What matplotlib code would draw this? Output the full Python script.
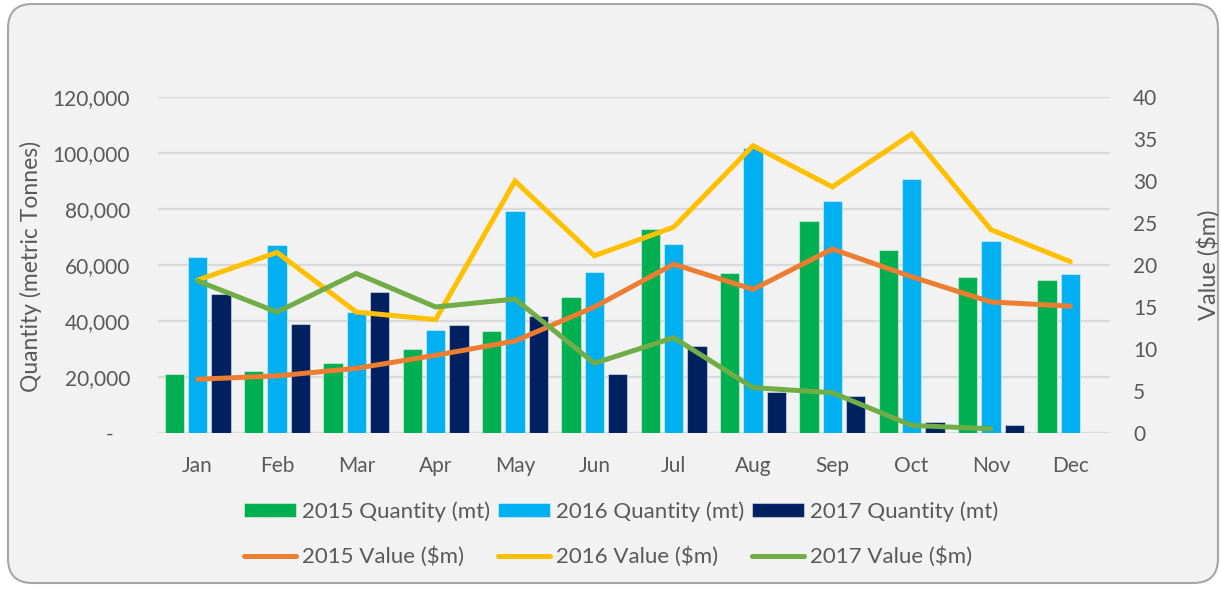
import matplotlib.pyplot as plt
from matplotlib.patches import FancyBboxPatch
from matplotlib.ticker import FuncFormatter
import numpy as np

# Data
months = ['Jan', 'Feb', 'Mar', 'Apr', 'May', 'Jun', 'Jul', 'Aug', 'Sep', 'Oct', 'Nov', 'Dec']
qty_2015 = [21000, 22000, 25000, 30000, 36400, 48700, 72900, 57300, 75700, 65200, 55700, 54800]
qty_2016 = [63000, 67100, 43100, 36700, 79300, 57400, 67500, 101700, 82700, 90700, 68500, 56700]
qty_2017 = [49800, 38900, 50200, 38700, 41800, 21000, 31000, 14700, 13300, 4000, 2900, np.nan]
val_2015 = [6.4, 6.8, 7.7, 9.25, 10.95, 15.0, 20.1, 17.1, 21.9, 18.6, 15.6, 15.1]
val_2016 = [18.2, 21.5, 14.4, 13.5, 30.0, 21.1, 24.5, 34.2, 29.3, 35.6, 24.2, 20.4]
val_2017 = [18.1, 14.4, 19.0, 15.0, 15.95, 8.3, 11.35, 5.4, 4.8, 0.9, 0.5, np.nan]

bg = '#F2F2F2'
txt = '#595959'
plt.rcParams['font.family'] = ['Lato', 'DejaVu Sans']
plt.rcParams['font.size'] = 15

fig = plt.figure(figsize=(12.21, 5.89), dpi=100)
fig.patch.set_facecolor('white')

# rounded chart border
box = FancyBboxPatch((8 / 1221, 6 / 589), 1210 / 1221, 579 / 589,
                     boxstyle='round,pad=0,rounding_size=0.02',
                     transform=fig.transFigure, facecolor=bg,
                     edgecolor='#A6A6A6', linewidth=1.5, zorder=-10,
                     mutation_aspect=1221 / 589)
fig.patches.append(box)

ax = fig.add_axes([158 / 1221, 1 - 433 / 589, 952 / 1221, 336 / 589])
ax.set_facecolor('none')
ax2 = ax.twinx()

x = np.arange(len(months))
w = 0.24
off = 0.294
edge = (1, 1, 1, 0.45)
b1 = ax.bar(x - off, qty_2015, w, color='#00B050', edgecolor=edge, linewidth=0.8, label='2015 Quantity (mt)')
b2 = ax.bar(x, qty_2016, w, color='#00B0F0', edgecolor=edge, linewidth=0.8, label='2016 Quantity (mt)')
b3 = ax.bar(x + off, qty_2017, w, color='#002060', edgecolor=edge, linewidth=0.8, label='2017 Quantity (mt)')

lw = 3.6
l1, = ax2.plot(x, val_2015, color='#ED7D31', lw=lw, solid_capstyle='round', solid_joinstyle='miter', label='2015 Value ($m)')
l2, = ax2.plot(x, val_2016, color='#FFC000', lw=lw, solid_capstyle='round', solid_joinstyle='miter', label='2016 Value ($m)')
l3, = ax2.plot(x, val_2017, color='#70AD47', lw=lw, solid_capstyle='round', solid_joinstyle='miter', label='2017 Value ($m)')

ax.set_xlim(-0.5, 11.5)
ax.set_ylim(0, 120000)
ax.set_yticks(range(0, 120001, 20000))
ax.yaxis.set_major_formatter(FuncFormatter(lambda v, p: '-   ' if v == 0 else f'{v:,.0f}'))
ax2.set_ylim(0, 40)
ax2.set_yticks(range(0, 41, 5))

ax.set_xticks(x)
ax.set_xticklabels(months)
ax.yaxis.grid(True, color='#D9D9D9', linewidth=1.5)
ax.set_axisbelow(True)
for a in (ax, ax2):
    for s in a.spines.values():
        s.set_visible(False)
ax.tick_params(axis='x', length=0, pad=16.5, colors=txt)
ax.tick_params(axis='y', length=0, pad=20, colors=txt)
ax2.tick_params(axis='y', length=0, pad=16.5, colors=txt)
ax.axhline(0, color='#D9D9D9', linewidth=1.5, zorder=0)

fig.text(30.5 / 1221, 1 - 266 / 589, 'Quantity (metric Tonnes)', rotation=90,
         ha='center', va='center', color=txt, fontsize=16.5)
fig.text(1208 / 1221, 1 - 265 / 589, 'Value ($m)', rotation=90,
         ha='center', va='center', color=txt, fontsize=17)

handles = [b1, l1, b2, l2, b3, l3]
leg = fig.legend(handles=handles, labels=[h.get_label() for h in handles],
                 ncol=3, loc='center', bbox_to_anchor=(621 / 1221, 1 - 534 / 589),
                 frameon=False, handlelength=2.35, handleheight=0.6, handletextpad=0.25,
                 columnspacing=0.36, labelspacing=1.12, fontsize=16,
                 borderpad=0.2)
for t in leg.get_texts():
    t.set_color(txt)

fig.savefig('out.png', dpi=100, facecolor='white')
